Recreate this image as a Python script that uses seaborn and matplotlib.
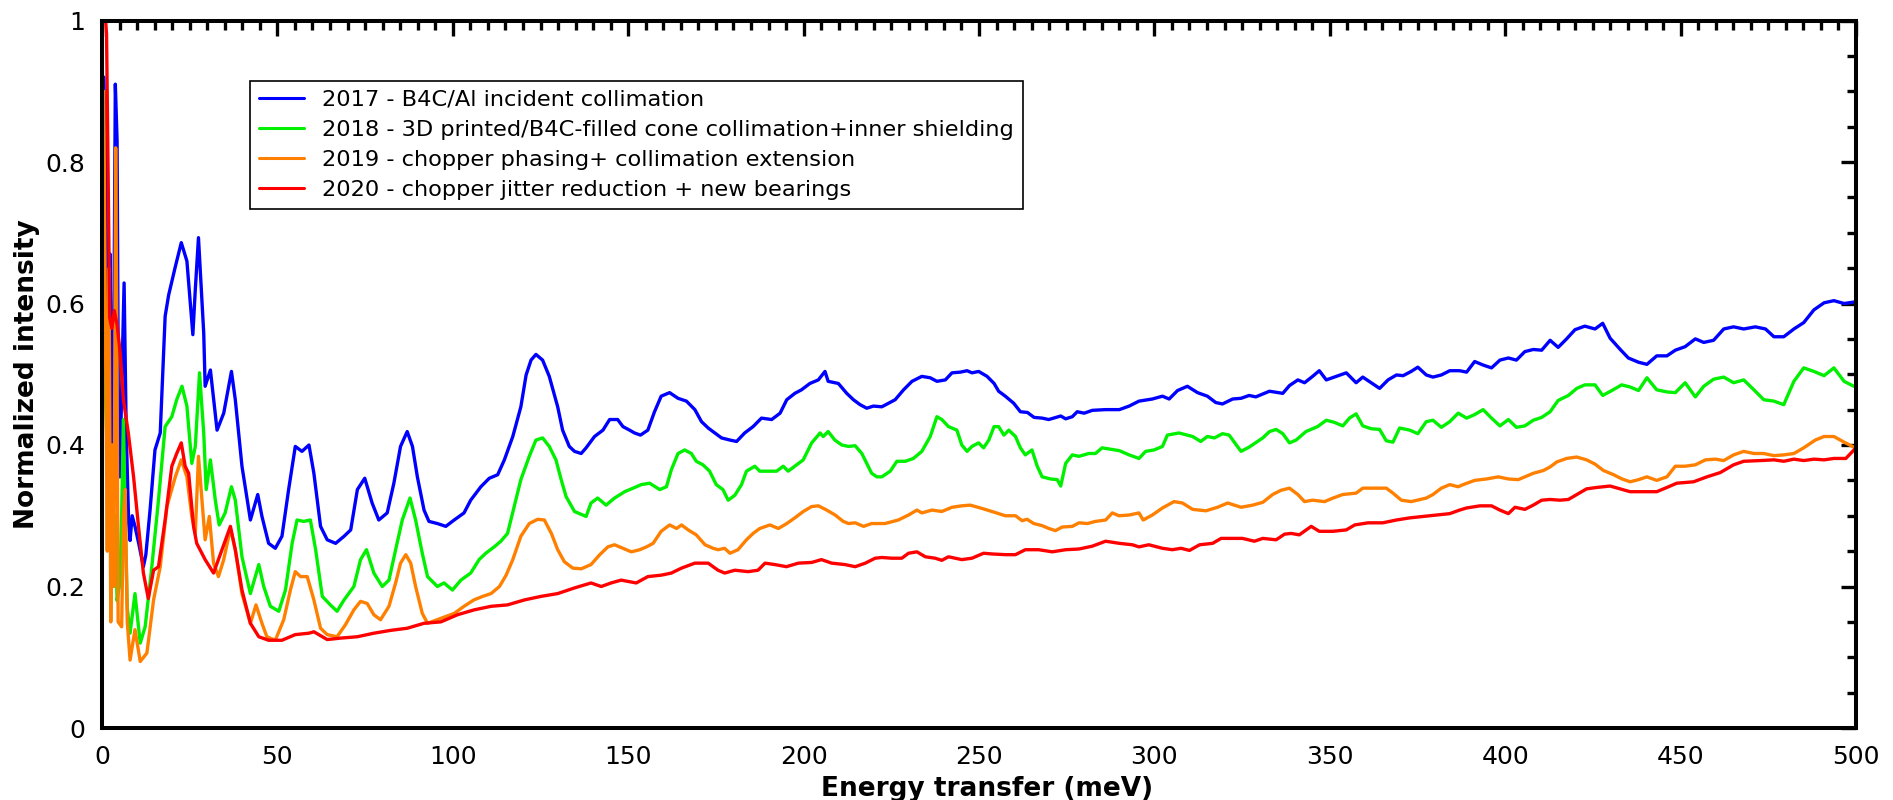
import numpy as np
import pandas as pd
import matplotlib
matplotlib.use("Agg")
import matplotlib.pyplot as plt
import seaborn as sns
from matplotlib.ticker import MultipleLocator, FixedLocator

series_labels = [
    "2017 - B4C/Al incident collimation",
    "2018 - 3D printed/B4C-filled cone collimation+inner shielding",
    "2019 - chopper phasing+ collimation extension",
    "2020 - chopper jitter reduction + new bearings",
]
series_colors = ["#0000ff", "#00f000", "#ff8000", "#ff0000"]

x_ticks = [0, 50, 100, 150, 200, 250, 300, 350, 400, 450, 500]
x_tick_labels = ["0", "50", "100", "150", "200", "250", "300", "350", "400", "450", "500"]
y_ticks = [0, 0.2, 0.4, 0.6, 0.8, 1.0]
y_tick_labels = ["0", "0.2", "0.4", "0.6", "0.8", "1"]

# ---- 2017 (blue) ----
e_2017 = [0.5, 1.2, 1.8, 2.3, 2.8, 3.3, 3.8, 4.3, 4.7, 5.1, 5.7, 6.3, 6.9, 7.6, 8.0, 8.6, 9.4, 10.5, 11.8, 12.5,
          13.7, 15.1, 16.6, 18.0, 19.0, 20.9, 22.6, 24.2, 25.1, 25.9, 26.6, 27.5, 28.3, 29.0, 29.4, 30.9, 32.8, 34.7, 36.9, 38.0,
          39.9, 42.3, 44.4, 45.6, 47.5, 49.4, 51.3, 53.2, 55.1, 57.0, 59.0, 60.4, 62.3, 64.2, 66.6, 69.0, 70.9, 72.8, 74.9, 77.0,
          78.9, 81.3, 83.2, 85.1, 87.0, 88.5, 89.9, 91.8, 93.2, 95.6, 98.0, 100.4, 103.2, 105.1, 108.0, 110.4, 112.8, 114.7, 117.1, 119.4,
          120.9, 122.3, 123.7, 125.6, 127.5, 129.9, 131.3, 133.2, 134.7, 136.6, 138.0, 140.4, 142.8, 144.7, 147.0, 148.5, 150.4, 151.8, 153.5, 155.6,
          157.5, 159.4, 161.8, 164.2, 166.6, 169.0, 170.9, 172.8, 174.7, 176.6, 179.0, 180.9, 183.2, 185.6, 188.0, 190.9, 193.3, 195.2, 197.5, 199.4,
          201.8, 204.2, 206.1, 207.0, 209.9, 212.3, 214.2, 216.1, 218.0, 219.9, 222.3, 226.1, 228.5, 230.9, 233.7, 236.1, 238.0, 240.4, 242.3, 244.7,
          246.6, 248.0, 249.9, 252.3, 254.3, 255.6, 257.5, 259.9, 261.8, 263.8, 265.7, 268.0, 269.9, 271.3, 273.3, 274.7, 276.6, 278.0, 280.0, 282.3,
          286.1, 290.0, 292.8, 295.6, 299.4, 302.3, 304.2, 306.6, 309.4, 312.3, 315.1, 317.5, 319.4, 322.3, 324.7, 327.0, 328.9, 332.8, 336.6, 338.5,
          340.9, 342.8, 345.1, 347.0, 349.0, 351.3, 354.7, 357.5, 359.4, 361.8, 364.2, 366.6, 369.0, 370.9, 373.2, 375.1, 377.5, 379.4, 381.8, 384.2,
          387.0, 389.0, 391.3, 393.7, 396.1, 398.5, 400.9, 403.2, 405.6, 408.0, 410.4, 412.8, 415.1, 417.5, 419.9, 422.7, 425.6, 427.8, 429.9, 432.8,
          435.1, 438.0, 440.4, 443.2, 446.1, 448.5, 451.3, 454.2, 456.6, 459.4, 462.3, 465.1, 468.0, 471.3, 474.2, 476.6, 479.4, 482.3, 485.1, 488.0,
          490.9, 493.7, 496.6, 499.4, 500.0]
i_2017 = [0.92, 0.78, 0.52, 0.67, 0.36, 0.50, 0.91, 0.83, 0.42, 0.355, 0.50, 0.629, 0.42, 0.29, 0.265, 0.30, 0.285, 0.26, 0.228, 0.245,
          0.308, 0.393, 0.417, 0.582, 0.612, 0.652, 0.686, 0.66, 0.605, 0.556, 0.62, 0.693, 0.62, 0.558, 0.483, 0.506, 0.421, 0.445, 0.504, 0.464,
          0.37, 0.294, 0.33, 0.299, 0.261, 0.254, 0.271, 0.337, 0.398, 0.391, 0.40, 0.36, 0.285, 0.266, 0.261, 0.271, 0.28, 0.337, 0.353, 0.318,
          0.294, 0.304, 0.346, 0.398, 0.419, 0.398, 0.355, 0.308, 0.292, 0.289, 0.285, 0.294, 0.304, 0.322, 0.341, 0.353, 0.358, 0.379, 0.412, 0.454,
          0.499, 0.52, 0.528, 0.52, 0.497, 0.454, 0.421, 0.398, 0.391, 0.388, 0.396, 0.412, 0.421, 0.436, 0.436, 0.426, 0.421, 0.417, 0.414, 0.421,
          0.447, 0.469, 0.474, 0.466, 0.462, 0.45, 0.433, 0.424, 0.417, 0.41, 0.407, 0.405, 0.417, 0.426, 0.438, 0.436, 0.445, 0.464, 0.473, 0.478,
          0.487, 0.492, 0.504, 0.49, 0.487, 0.473, 0.464, 0.457, 0.452, 0.455, 0.454, 0.464, 0.478, 0.49, 0.497, 0.495, 0.49, 0.492, 0.502, 0.503,
          0.505, 0.502, 0.504, 0.497, 0.487, 0.476, 0.469, 0.459, 0.447, 0.446, 0.439, 0.438, 0.436, 0.438, 0.441, 0.437, 0.44, 0.447, 0.445, 0.449,
          0.45, 0.45, 0.455, 0.462, 0.465, 0.469, 0.465, 0.477, 0.483, 0.474, 0.469, 0.46, 0.458, 0.465, 0.466, 0.47, 0.468, 0.476, 0.473, 0.484,
          0.492, 0.488, 0.497, 0.505, 0.492, 0.496, 0.502, 0.488, 0.496, 0.488, 0.48, 0.492, 0.499, 0.498, 0.504, 0.51, 0.499, 0.496, 0.499, 0.505,
          0.505, 0.503, 0.518, 0.513, 0.509, 0.52, 0.523, 0.52, 0.532, 0.535, 0.534, 0.548, 0.538, 0.55, 0.563, 0.568, 0.564, 0.572, 0.551, 0.535,
          0.523, 0.517, 0.514, 0.526, 0.526, 0.534, 0.539, 0.55, 0.545, 0.548, 0.564, 0.567, 0.564, 0.567, 0.564, 0.553, 0.553, 0.564, 0.573, 0.591,
          0.601, 0.604, 0.60, 0.602, 0.602]

# ---- 2018 (green) ----
e_2018 = [0.5, 1.3, 1.9, 2.5, 3.1, 3.7, 4.3, 5.1, 5.6, 6.1, 6.6, 7.2, 8.0, 9.4, 10.9, 12.3, 14.2, 16.1, 18.0, 19.9,
          21.3, 22.8, 24.2, 25.6, 26.6, 27.8, 29.0, 29.7, 30.9, 32.3, 33.4, 35.1, 36.9, 38.0, 39.9, 42.3, 44.7, 46.1, 48.0, 50.4,
          52.3, 54.2, 55.6, 57.5, 59.4, 60.9, 62.8, 65.1, 67.0, 69.0, 71.8, 73.7, 75.4, 77.5, 79.9, 81.8, 83.7, 85.6, 87.8, 89.4,
          91.3, 92.8, 95.6, 97.5, 99.9, 102.3, 105.1, 107.5, 109.4, 111.8, 113.7, 115.6, 117.5, 119.4, 121.8, 123.7, 125.6, 127.5, 129.4, 130.9,
          132.3, 134.7, 136.6, 138.0, 139.4, 141.3, 143.7, 146.1, 149.0, 151.4, 153.7, 156.1, 159.0, 160.9, 162.3, 164.2, 166.1, 168.0, 169.4, 171.3,
          173.2, 175.1, 177.0, 178.5, 180.4, 182.3, 183.7, 186.1, 187.5, 189.9, 192.3, 194.2, 195.6, 198.0, 199.9, 202.3, 204.7, 205.6, 207.0, 208.9,
          210.9, 212.8, 214.7, 216.6, 218.0, 219.4, 220.9, 222.3, 224.7, 226.6, 229.0, 231.3, 233.7, 236.1, 238.0, 239.4, 241.3, 243.7, 245.1, 246.6,
          248.0, 249.9, 251.3, 252.8, 254.3, 255.6, 257.1, 258.5, 260.4, 261.8, 263.2, 265.1, 266.6, 268.0, 270.4, 272.3, 273.3, 274.7, 276.6, 278.5,
          281.3, 283.2, 285.1, 287.6, 290.0, 292.8, 295.6, 297.5, 299.9, 302.3, 303.7, 307.0, 310.9, 313.2, 315.1, 317.1, 319.4, 321.3, 324.7, 327.0,
          330.9, 332.8, 334.7, 336.6, 338.5, 340.4, 343.2, 346.5, 349.0, 351.3, 353.7, 355.6, 357.5, 359.4, 361.8, 364.2, 366.1, 368.0, 369.9, 372.8,
          375.1, 377.5, 379.4, 381.8, 384.2, 386.6, 389.0, 391.3, 393.7, 396.1, 398.5, 400.9, 403.2, 405.6, 408.0, 410.4, 412.8, 415.1, 418.0, 420.4,
          422.7, 425.6, 427.8, 430.4, 433.2, 435.6, 438.0, 440.4, 443.2, 446.1, 448.5, 451.3, 454.2, 456.6, 459.4, 462.3, 465.1, 468.0, 470.9, 473.7,
          476.6, 479.4, 482.3, 485.1, 488.0, 490.9, 493.7, 496.6, 499.4, 500.0]
i_2018 = [0.55, 0.42, 0.28, 0.40, 0.22, 0.30, 0.18, 0.205, 0.30, 0.436, 0.30, 0.17, 0.134, 0.19, 0.12, 0.143, 0.228, 0.322, 0.426, 0.44,
          0.464, 0.483, 0.455, 0.374, 0.398, 0.502, 0.417, 0.337, 0.379, 0.322, 0.287, 0.304, 0.341, 0.322, 0.242, 0.19, 0.231, 0.20, 0.172, 0.165,
          0.195, 0.261, 0.294, 0.292, 0.294, 0.252, 0.186, 0.174, 0.165, 0.181, 0.20, 0.238, 0.252, 0.219, 0.20, 0.209, 0.252, 0.294, 0.325, 0.294,
          0.247, 0.214, 0.20, 0.205, 0.195, 0.209, 0.219, 0.238, 0.247, 0.256, 0.264, 0.275, 0.313, 0.351, 0.384, 0.407, 0.41, 0.398, 0.379, 0.351,
          0.327, 0.306, 0.302, 0.299, 0.318, 0.325, 0.315, 0.325, 0.334, 0.339, 0.344, 0.346, 0.337, 0.341, 0.365, 0.388, 0.393, 0.388, 0.377, 0.372,
          0.363, 0.344, 0.337, 0.322, 0.329, 0.344, 0.363, 0.37, 0.363, 0.363, 0.363, 0.37, 0.363, 0.372, 0.379, 0.403, 0.417, 0.412, 0.419, 0.407,
          0.40, 0.398, 0.399, 0.388, 0.374, 0.36, 0.355, 0.355, 0.363, 0.377, 0.377, 0.381, 0.391, 0.412, 0.44, 0.436, 0.426, 0.421, 0.40, 0.391,
          0.398, 0.403, 0.396, 0.407, 0.426, 0.426, 0.414, 0.421, 0.412, 0.396, 0.386, 0.393, 0.37, 0.355, 0.352, 0.351, 0.342, 0.374, 0.386, 0.384,
          0.388, 0.388, 0.396, 0.394, 0.392, 0.386, 0.381, 0.391, 0.393, 0.398, 0.414, 0.417, 0.412, 0.405, 0.412, 0.41, 0.416, 0.414, 0.391, 0.397,
          0.41, 0.419, 0.422, 0.416, 0.403, 0.407, 0.419, 0.426, 0.435, 0.432, 0.427, 0.438, 0.444, 0.427, 0.423, 0.422, 0.406, 0.404, 0.424, 0.421,
          0.416, 0.433, 0.435, 0.425, 0.433, 0.445, 0.438, 0.443, 0.45, 0.438, 0.427, 0.436, 0.425, 0.427, 0.435, 0.439, 0.447, 0.463, 0.47, 0.48,
          0.485, 0.485, 0.47, 0.477, 0.485, 0.482, 0.477, 0.495, 0.478, 0.475, 0.474, 0.488, 0.468, 0.483, 0.493, 0.496, 0.488, 0.492, 0.478, 0.464,
          0.462, 0.457, 0.49, 0.509, 0.504, 0.498, 0.509, 0.49, 0.483, 0.482]

# ---- 2019 (orange) ----
e_2019 = [0.5, 1.0, 1.5, 2.0, 2.5, 3.0, 3.4, 3.9, 4.3, 4.6, 5.6, 6.1, 6.6, 7.2, 8.0, 9.4, 10.9, 12.8, 14.7, 16.6,
          18.5, 20.9, 22.6, 24.2, 25.6, 26.6, 27.5, 28.5, 29.4, 30.6, 31.8, 33.2, 34.7, 36.6, 38.0, 39.9, 42.3, 43.9, 45.6, 47.0,
          49.4, 51.8, 53.7, 55.1, 56.6, 58.5, 60.4, 62.3, 64.2, 67.0, 69.4, 71.8, 73.7, 75.6, 77.5, 79.4, 81.8, 83.7, 85.1, 86.6,
          88.0, 89.4, 91.3, 92.8, 96.6, 100.4, 103.2, 106.0, 108.5, 110.9, 113.3, 115.2, 117.1, 119.4, 121.8, 124.2, 126.1, 128.1, 129.9, 131.8,
          134.2, 136.6, 139.4, 141.9, 144.2, 146.1, 148.5, 150.9, 153.3, 155.2, 157.1, 159.4, 161.8, 163.8, 165.2, 167.1, 169.4, 171.9, 174.2, 175.6,
          177.5, 179.0, 181.3, 183.7, 185.6, 187.5, 190.4, 192.8, 195.2, 197.5, 199.9, 202.3, 204.2, 206.6, 209.0, 211.3, 212.8, 214.7, 217.1, 219.4,
          223.2, 227.0, 229.9, 232.3, 233.7, 236.6, 239.4, 242.3, 245.1, 247.5, 250.4, 253.7, 257.5, 260.4, 262.3, 263.7, 265.6, 268.0, 269.9, 271.8,
          273.7, 276.6, 278.5, 280.9, 283.2, 286.1, 288.0, 289.9, 292.8, 295.6, 296.8, 299.4, 302.3, 305.6, 308.0, 310.9, 314.7, 318.0, 320.9, 324.7,
          328.0, 330.9, 333.7, 336.1, 338.5, 340.9, 342.8, 345.1, 348.5, 350.9, 353.7, 357.5, 359.4, 362.3, 366.1, 368.0, 370.4, 373.2, 377.5, 379.4,
          381.8, 384.2, 386.6, 388.0, 391.3, 394.7, 398.0, 400.9, 403.7, 405.6, 408.0, 410.9, 412.8, 414.7, 417.5, 420.4, 423.2, 425.6, 428.0, 430.9,
          433.3, 435.6, 438.0, 440.4, 443.2, 446.1, 448.5, 451.3, 454.2, 457.1, 459.9, 462.3, 465.1, 468.0, 470.9, 473.7, 476.6, 479.4, 482.3, 485.1,
          488.4, 490.9, 493.7, 496.6, 499.4, 500.0]
i_2019 = [0.90, 0.55, 0.25, 0.65, 0.15, 0.40, 0.20, 0.82, 0.50, 0.15, 0.143, 0.30, 0.337, 0.15, 0.096, 0.139, 0.094, 0.106, 0.181, 0.228,
          0.313, 0.355, 0.379, 0.355, 0.299, 0.275, 0.384, 0.322, 0.266, 0.299, 0.233, 0.214, 0.238, 0.282, 0.252, 0.19, 0.148, 0.174, 0.148, 0.129,
          0.124, 0.153, 0.195, 0.221, 0.214, 0.214, 0.181, 0.141, 0.132, 0.129, 0.146, 0.167, 0.179, 0.176, 0.16, 0.153, 0.172, 0.205, 0.233, 0.245,
          0.233, 0.20, 0.162, 0.148, 0.155, 0.162, 0.172, 0.181, 0.186, 0.19, 0.20, 0.216, 0.238, 0.271, 0.289, 0.295, 0.294, 0.275, 0.252, 0.235,
          0.226, 0.225, 0.231, 0.245, 0.256, 0.259, 0.254, 0.249, 0.252, 0.256, 0.261, 0.278, 0.287, 0.282, 0.287, 0.28, 0.273, 0.259, 0.254, 0.252,
          0.254, 0.247, 0.252, 0.266, 0.275, 0.282, 0.287, 0.282, 0.289, 0.297, 0.306, 0.313, 0.314, 0.308, 0.301, 0.292, 0.289, 0.29, 0.285, 0.289,
          0.289, 0.294, 0.301, 0.308, 0.304, 0.308, 0.306, 0.312, 0.314, 0.315, 0.311, 0.306, 0.30, 0.30, 0.293, 0.295, 0.289, 0.286, 0.282, 0.279,
          0.284, 0.285, 0.29, 0.289, 0.292, 0.294, 0.304, 0.30, 0.301, 0.304, 0.294, 0.301, 0.311, 0.32, 0.318, 0.309, 0.307, 0.312, 0.318, 0.312,
          0.315, 0.319, 0.33, 0.336, 0.339, 0.33, 0.32, 0.322, 0.32, 0.325, 0.33, 0.332, 0.339, 0.339, 0.339, 0.332, 0.322, 0.32, 0.325, 0.33,
          0.339, 0.344, 0.341, 0.344, 0.35, 0.352, 0.355, 0.352, 0.351, 0.355, 0.36, 0.364, 0.369, 0.376, 0.381, 0.383, 0.379, 0.373, 0.364, 0.358,
          0.352, 0.348, 0.351, 0.355, 0.35, 0.355, 0.37, 0.37, 0.372, 0.379, 0.38, 0.378, 0.386, 0.391, 0.388, 0.388, 0.385, 0.386, 0.388, 0.396,
          0.407, 0.412, 0.412, 0.404, 0.397, 0.396]

# ---- 2020 (red) ----
e_2020 = [0.4, 1.3, 1.8, 2.2, 2.8, 3.5, 4.3, 5.2, 6.1, 7.5, 9.0, 10.4, 11.8, 13.2, 14.7, 16.1, 18.0, 19.9, 21.3, 22.6,
          23.7, 24.7, 26.1, 27.0, 29.4, 31.8, 34.2, 36.6, 38.0, 39.9, 42.3, 44.7, 47.5, 51.3, 55.1, 59.0, 60.4, 64.2, 67.9, 72.8,
          77.5, 82.3, 87.0, 91.8, 96.6, 101.3, 106.1, 110.9, 115.6, 120.4, 125.1, 129.9, 134.7, 139.4, 142.3, 145.1, 148.0, 152.3, 155.6, 159.4,
          162.3, 165.2, 169.0, 172.8, 175.6, 177.5, 180.4, 184.2, 187.0, 189.0, 191.8, 195.1, 198.5, 202.3, 205.1, 208.0, 211.8, 214.7, 217.6, 220.4,
          222.3, 225.1, 228.0, 229.9, 232.3, 234.7, 237.5, 239.4, 241.3, 245.1, 248.0, 251.3, 253.7, 257.5, 260.4, 263.2, 267.0, 270.9, 274.7, 278.5,
          282.3, 286.1, 290.0, 293.7, 295.6, 298.4, 302.3, 305.1, 307.6, 310.0, 312.9, 316.6, 319.0, 321.3, 325.1, 328.5, 330.9, 334.7, 337.1, 339.0,
          341.3, 344.7, 347.0, 350.9, 354.7, 357.1, 360.9, 365.1, 369.0, 372.8, 376.6, 380.4, 384.2, 387.0, 389.0, 392.8, 396.1, 398.5, 400.9, 402.8,
          405.6, 408.0, 410.4, 412.8, 415.6, 418.0, 420.4, 423.2, 426.1, 429.9, 432.8, 435.6, 439.4, 443.2, 446.1, 448.9, 453.7, 457.5, 461.3, 465.1,
          468.0, 472.8, 476.6, 479.4, 482.3, 485.1, 488.0, 490.9, 493.7, 497.1, 500.0]
i_2020 = [1.05, 0.98, 0.75, 0.58, 0.565, 0.59, 0.57, 0.53, 0.464, 0.417, 0.355, 0.285, 0.219, 0.183, 0.223, 0.228, 0.294, 0.37, 0.388, 0.403,
          0.37, 0.36, 0.285, 0.261, 0.238, 0.219, 0.252, 0.285, 0.252, 0.195, 0.148, 0.129, 0.124, 0.124, 0.132, 0.134, 0.136, 0.125, 0.127, 0.129,
          0.134, 0.138, 0.141, 0.148, 0.15, 0.16, 0.167, 0.172, 0.174, 0.181, 0.186, 0.19, 0.198, 0.205, 0.20, 0.205, 0.209, 0.205, 0.214, 0.216,
          0.219, 0.226, 0.233, 0.233, 0.223, 0.219, 0.223, 0.221, 0.223, 0.233, 0.231, 0.228, 0.233, 0.234, 0.238, 0.233, 0.231, 0.228, 0.233, 0.24,
          0.241, 0.24, 0.24, 0.247, 0.249, 0.242, 0.24, 0.237, 0.242, 0.238, 0.24, 0.247, 0.246, 0.245, 0.245, 0.252, 0.252, 0.249, 0.252, 0.253,
          0.257, 0.264, 0.261, 0.259, 0.256, 0.259, 0.254, 0.252, 0.254, 0.251, 0.259, 0.261, 0.268, 0.268, 0.268, 0.264, 0.268, 0.266, 0.274, 0.275,
          0.273, 0.285, 0.278, 0.278, 0.28, 0.287, 0.29, 0.29, 0.294, 0.297, 0.299, 0.301, 0.303, 0.308, 0.311, 0.314, 0.314, 0.308, 0.303, 0.312,
          0.309, 0.315, 0.322, 0.323, 0.322, 0.323, 0.33, 0.338, 0.34, 0.342, 0.338, 0.334, 0.334, 0.334, 0.34, 0.346, 0.348, 0.355, 0.361, 0.372,
          0.377, 0.378, 0.379, 0.377, 0.38, 0.378, 0.38, 0.379, 0.381, 0.381, 0.396]

energies = [e_2017, e_2018, e_2019, e_2020]
intensities = [i_2017, i_2018, i_2019, i_2020]

frames = []
for lab, e, v in zip(series_labels, energies, intensities):
    frames.append(pd.DataFrame({"E": e, "I": v, "series": lab}))
df = pd.concat(frames, ignore_index=True)

sns.set_theme(style="white")
plt.rcParams["font.family"] = ["DejaVu Sans"]
plt.rcParams["text.color"] = "black"
plt.rcParams["axes.labelcolor"] = "black"
plt.rcParams["xtick.color"] = "black"
plt.rcParams["ytick.color"] = "black"

W, H = 1893, 800
fig = plt.figure(figsize=(W / 100, H / 100), dpi=100)
ax = fig.add_axes([102 / W, 72 / H, 1754 / W, 707.5 / H])

sns.lineplot(data=df, x="E", y="I", hue="series", hue_order=series_labels,
             palette=series_colors, estimator=None, sort=False, linewidth=2.4, ax=ax)

ax.set_xlim(0, 500)
ax.set_ylim(0, 1)
ax.xaxis.set_major_locator(FixedLocator(x_ticks))
ax.set_xticklabels(x_tick_labels)
ax.xaxis.set_minor_locator(MultipleLocator(5))
ax.yaxis.set_major_locator(FixedLocator(y_ticks))
ax.set_yticklabels(y_tick_labels)
ax.yaxis.set_minor_locator(MultipleLocator(0.05))

for s in ax.spines.values():
    s.set_linewidth(2.9)
    s.set_color("black")

ax.tick_params(which="both", direction="in", top=True, right=True, width=2.4, color="black")
ax.tick_params(which="major", length=11, pad=12, labelsize=18)
ax.tick_params(which="minor", length=6.5)

ax.set_xlabel("Energy transfer (meV)", fontsize=19, fontweight="bold", labelpad=5)
ax.xaxis.set_label_coords(0.5045, -0.068)
ax.set_ylabel("Normalized intensity", fontsize=19, fontweight="bold", labelpad=4)

handles, labels = ax.get_legend_handles_labels()
leg = ax.legend(handles, labels, loc="upper left", bbox_to_anchor=(0.0845, 0.915),
                fontsize=16.2, frameon=True, fancybox=False, edgecolor="black",
                framealpha=1, borderaxespad=0, labelspacing=0.45, handlelength=2.0,
                handletextpad=0.8, borderpad=0.4)
leg.get_frame().set_linewidth(1.2)
for lh in leg.get_lines():
    lh.set_linewidth(2.2)

fig.savefig("out.png", dpi=100)
